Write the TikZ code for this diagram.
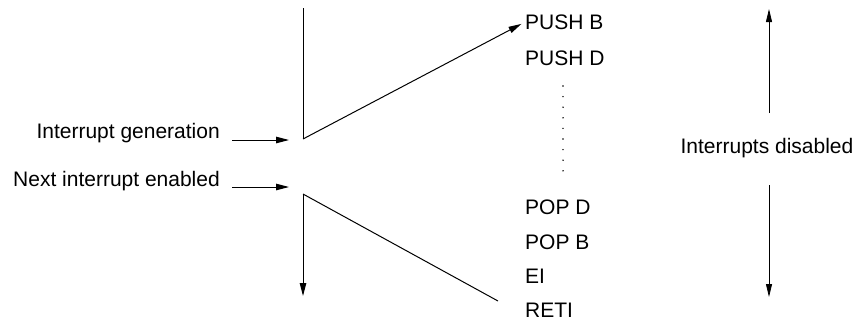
\documentclass[tikz,border=0pt]{standalone}
\usepackage{fontspec}
\setmainfont{Liberation Sans}
\usetikzlibrary{arrows.meta}
\begin{document}
\begin{tikzpicture}[x=1pt,y=-1pt,
  lbl/.style={inner sep=0pt,font=\fontsize{21}{25}\selectfont},
  ln/.style={line width=1pt},
  arr/.style={ln,-{Triangle[length=13pt,width=6.5pt]}},
  thinarr/.style={line width=0.8pt,-{Triangle[length=13pt,width=6pt]}}]
\useasboundingbox (0,0) rectangle (863,330);
% texts
\node[lbl,anchor=east] (gen) at (220,133) {Interrupt generation};
\node[lbl,anchor=east] (nxt) at (220,181) {Next interrupt enabled};
\node[lbl,anchor=west] (pushb) at (525,22) {PUSH B};
\node[lbl,anchor=west] (pushd) at (525,58) {PUSH D};
\node[lbl,anchor=west] (popd) at (525,207) {POP D};
\node[lbl,anchor=west] (popb) at (525,242) {POP B};
\node[lbl,anchor=west] (ei) at (525,276) {EI};
\node[lbl,anchor=west] (reti) at (525,310) {RETI};
\node[lbl] (dis) at (767,148) {Interrupts disabled};
% coordinates
\coordinate (top) at (303,8);
\coordinate (g) at (303,139);
\coordinate (e) at (303,194);
\coordinate (bot) at (303,296);
\coordinate (endr) at (498,301);
\coordinate (a1s) at (232,140);
\coordinate (a1e) at (289,140);
\coordinate (a2s) at (232,187);
\coordinate (a2e) at (289,187);
\coordinate (d1) at (563,86);
\coordinate (d2) at (563,171);
\coordinate (u1) at (769,113);
\coordinate (u2) at (769,9);
\coordinate (w1) at (769,185);
\coordinate (w2) at (769,297);
% lines
\draw[ln] (top) -- (g);
\draw[arr,shorten >=4pt] (g) -- (pushb.west);
\draw[arr] (e) -- (bot);
\draw[ln] (e) -- (endr);
\draw[arr] (a1s) -- (a1e);
\draw[arr] (a2s) -- (a2e);
\draw[line width=1.6pt,line cap=round,dash pattern=on 0pt off 10.6pt] (d1) -- (d2);
\draw[thinarr] (u1) -- (u2);
\draw[thinarr] (w1) -- (w2);
\end{tikzpicture}
\end{document}
